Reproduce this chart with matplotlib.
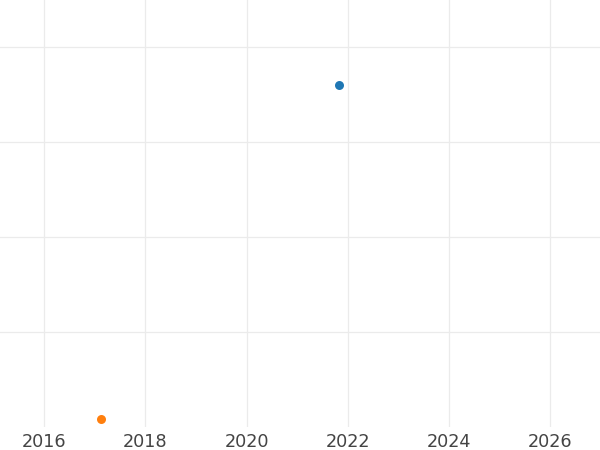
import matplotlib
matplotlib.use('Agg')
import matplotlib.pyplot as plt

# data
blue_x = [2021.83]
blue_y = [3.6]
orange_x = [2017.12]
orange_y = [0.08]
year_ticks = [2016, 2018, 2020, 2022, 2024, 2026]

fig = plt.figure(figsize=(6, 4.5), dpi=100)
ax = fig.add_axes([0, 0.051, 1, 0.949])

ax.scatter(blue_x, blue_y, s=42, color='#1f77b4', zorder=3, linewidths=0)
ax.scatter(orange_x, orange_y, s=42, color='#ff7f0e', zorder=3, linewidths=0)

ax.set_xlim(2015.13, 2026.98)
ax.set_ylim(0, 4.5)
ax.set_xticks(year_ticks)
ax.set_xticklabels([str(y) for y in year_ticks])
ax.set_yticks([1, 2, 3, 4])
ax.set_yticklabels([])
ax.tick_params(axis='both', length=0, colors='#444444', labelsize=12.7, pad=4)
ax.grid(True, color='#ebebeb', linewidth=0.9)
for s in ax.spines.values():
    s.set_visible(False)

plt.savefig('out.png', dpi=100)
